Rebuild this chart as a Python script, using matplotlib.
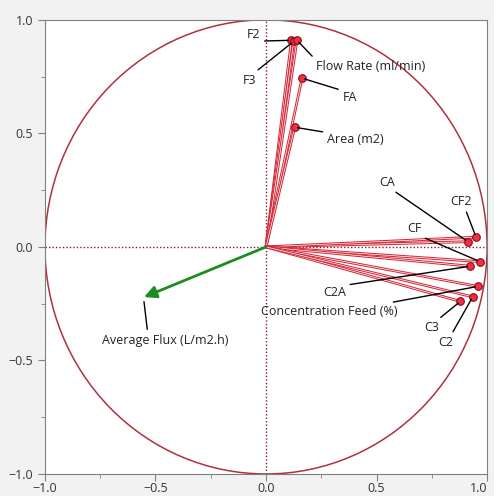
import numpy as np
import matplotlib.pyplot as plt
from matplotlib.patches import Circle

# loadings (component 1, component 2)
names = ["F2", "F3", "Flow Rate (ml/min)", "FA", "Area (m2)",
         "CA", "CF2", "CF", "C2A", "Concentration Feed (%)", "C3", "C2"]
pc1 = [0.115, 0.125, 0.14, 0.163, 0.13,
       0.913, 0.95, 0.968, 0.924, 0.958, 0.879, 0.935]
pc2 = [0.91, 0.905, 0.91, 0.743, 0.527,
       0.023, 0.043, -0.065, -0.085, -0.174, -0.24, -0.22]
# where each label sits and where its leader line leaves the text
lab_x = [-0.025, -0.075, 0.225, 0.345, 0.275,
         0.55, 0.88, 0.67, 0.31, 0.285, 0.75, 0.815]
lab_y = [0.935, 0.735, 0.795, 0.66, 0.475,
         0.285, 0.2, 0.08, -0.2, -0.285, -0.355, -0.42]
lab_ha = ["right", "center", "left", "left", "left",
          "center", "center", "center", "center", "center", "center", "center"]
lab_rel = [(1.0, 0.0), (0.8, 1.0), (0.0, 1.0), (0.0, 1.0), (0.0, 1.0),
           (0.7, 0.0), (0.7, 0.0), (0.8, 0.0), (0.8, 1.0), (0.8, 0.9),
           (0.8, 1.0), (0.8, 1.0)]

flux_name = "Average Flux (L/m2.h)"
flux = (-0.552, -0.221)
flux_lab = (-0.455, -0.41)

plt.rcParams["font.family"] = ["Open Sans", "DejaVu Sans"]

fig = plt.figure(figsize=(4.94, 4.96), dpi=100, facecolor="#f2f2f2")
ax = fig.add_axes([0.091, 0.0444, 0.895, 0.9156])
ax.set_facecolor("white")

red = "#d42a3a"
dark = "#b03040"

ax.add_patch(Circle((0, 0), 1.0, fill=False, ec=dark, lw=1.1, zorder=2))
ax.axhline(0, color="#8b1a2a", ls=(0, (1, 1.5)), lw=1, zorder=1)
ax.axvline(0, color="#8b1a2a", ls=(0, (1, 1.5)), lw=1, zorder=1)

for x, y in zip(pc1, pc2):
    ax.plot([0, x], [0, y], color=red, lw=2.0, zorder=3, solid_capstyle="butt")
    ax.plot([0, x], [0, y], color="white", lw=0.5, zorder=3, solid_capstyle="butt")
ax.scatter(pc1, pc2, s=30, color="#f03040", edgecolor="#8b0a1a", lw=0.8, zorder=5)

for n, x, y, tx, ty, ha, rp in zip(names, pc1, pc2, lab_x, lab_y, lab_ha, lab_rel):
    ax.annotate(n, xy=(x, y), xytext=(tx, ty), ha=ha, va="center", fontsize=9,
                color="#222222", zorder=6,
                arrowprops=dict(arrowstyle="-", color="black", lw=1, relpos=rp,
                                shrinkA=1, shrinkB=2))

ax.annotate("", xy=flux, xytext=(0, 0),
            arrowprops=dict(arrowstyle="-|>", color="#1e8c1e", lw=2,
                            mutation_scale=18, shrinkA=0, shrinkB=0), zorder=4)
ax.annotate(flux_name, xy=(flux[0], flux[1] - 0.02), xytext=flux_lab,
            ha="center", va="center", fontsize=9, color="#222222",
            arrowprops=dict(arrowstyle="-", color="black", lw=1,
                            relpos=(0.36, 1.0), shrinkA=1, shrinkB=0))

ax.set_xlim(-1, 1)
ax.set_ylim(-1, 1)
ax.set_xticks([-1.0, -0.5, 0.0, 0.5, 1.0])
ax.set_yticks([-1.0, -0.5, 0.0, 0.5, 1.0])
ax.set_xticks(np.arange(-0.75, 1, 0.5), minor=True)
ax.set_yticks(np.arange(-0.75, 1, 0.5), minor=True)
ax.tick_params(which="both", color="#808080", labelcolor="#333333", labelsize=9)
ax.tick_params(which="major", length=5)
ax.tick_params(which="minor", length=3)
ax.tick_params(axis="x", pad=1)
for s in ax.spines.values():
    s.set_color("#808080")

# keep the last x label inside the figure edge
fig.canvas.draw()
ax.get_xticklabels()[-1].set_horizontalalignment("right")

fig.savefig("out.png", dpi=100, facecolor=fig.get_facecolor())
